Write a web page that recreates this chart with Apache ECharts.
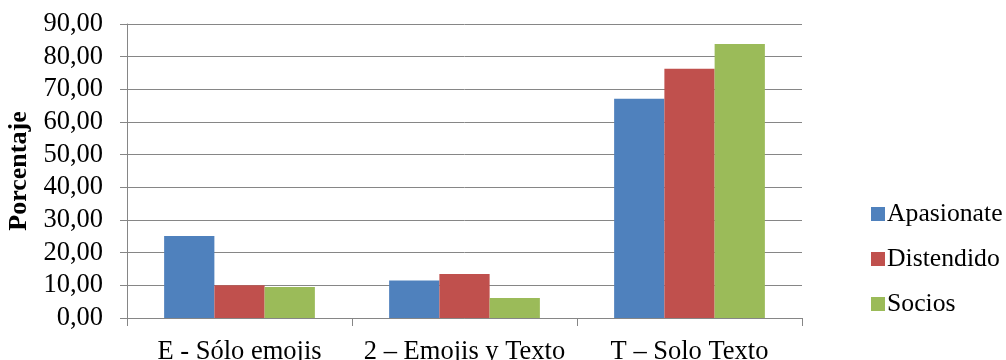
<!DOCTYPE html>
<html>
<head>
<meta charset="utf-8">
<script src="https://cdn.jsdelivr.net/npm/echarts@6/dist/echarts.min.js"></script>
<style>
  html, body { margin: 0; padding: 0; background: #fff; }
  #chart { width: 1006px; height: 360px; }
</style>
</head>
<body>
<div id="chart"></div>
<script>
// Message style categories and percentage per group
const categories = ['E - Sólo emojis', '2 – Emojis y Texto', 'T – Solo Texto'];
const apasionate = [25.1, 11.5, 67.1];
const distendido = [10.0, 13.5, 76.3];
const socios = [9.5, 6.1, 83.9];
const seriesNames = ['Apasionate', 'Distendido', 'Socios'];
const seriesColors = ['#4f81bd', '#c0504d', '#9bbb59'];

const fontFamily = "'Liberation Serif', 'Times New Roman', serif";
const axisGray = '#868686';
const labelSize = 26.5;

const chart = echarts.init(document.getElementById('chart'));
const values = [apasionate, distendido, socios];

chart.setOption({
  animation: false,
  textStyle: { fontFamily: fontFamily, color: '#000' },
  grid: { left: 127, right: 204, top: 24, bottom: 42, containLabel: false, outerBoundsMode: 'none' },
  legend: {
    orient: 'vertical',
    left: 866,
    top: 196,
    itemWidth: 14,
    itemHeight: 14,
    itemGap: 19,
    icon: 'rect',
    textStyle: { fontFamily: fontFamily, fontSize: 25.7, color: '#000', lineHeight: 25, padding: [0, 0, 0, -3] },
    data: seriesNames
  },
  xAxis: {
    type: 'category',
    data: categories,
    axisLine: { show: true, lineStyle: { color: axisGray, width: 1 } },
    axisTick: { show: true, length: 8, lineStyle: { color: axisGray } },
    axisLabel: { fontFamily: fontFamily, fontSize: labelSize, color: '#000', margin: 21, interval: 0 }
  },
  yAxis: {
    type: 'value',
    min: 0,
    max: 90,
    interval: 10,
    name: 'Porcentaje',
    nameLocation: 'middle',
    nameGap: 88,
    nameTextStyle: { fontFamily: fontFamily, fontSize: 26, fontWeight: 'bold', color: '#000' },
    axisLine: { show: true, lineStyle: { color: axisGray, width: 1 } },
    axisTick: { show: true, length: 7, lineStyle: { color: axisGray } },
    splitLine: { show: true, lineStyle: { color: axisGray, width: 1 } },
    axisLabel: {
      fontFamily: fontFamily, fontSize: labelSize, color: '#000', margin: 24,
      formatter: v => v.toFixed(2).replace('.', ',')
    }
  },
  series: seriesNames.map((name, i) => ({
    name: name,
    type: 'bar',
    data: values[i],
    barGap: '0%',
    barCategoryGap: '33%',
    itemStyle: { color: seriesColors[i] }
  }))
});
</script>
</body>
</html>
